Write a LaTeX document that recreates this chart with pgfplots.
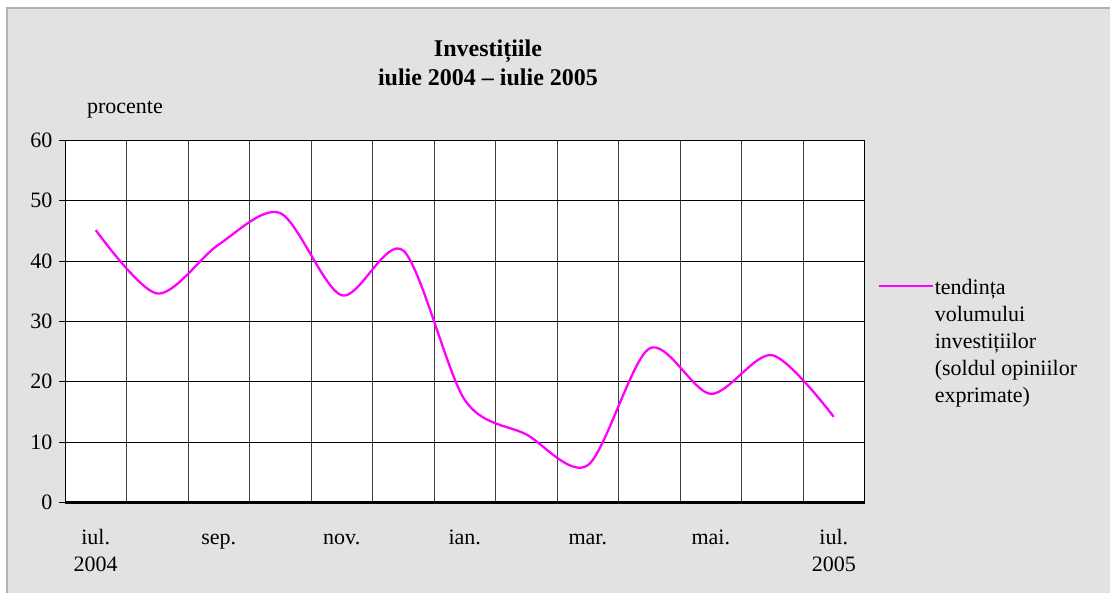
\documentclass[border=0pt]{standalone}
\usepackage{pgfplots}
\pgfplotsset{compat=1.18}
\usepackage{fontspec}
\setmainfont{Liberation Serif}
\definecolor{bgdots}{RGB}{226,226,226}
\definecolor{mag}{RGB}{255,0,255}
\newcommand{\ml}[1]{\begin{tabular}[t]{@{}c@{}}#1\end{tabular}}
\begin{document}
\begin{tikzpicture}[x=1pt,y=1pt,font=\fontsize{22}{26}\selectfont]
\fill[white] (0,0) rectangle (1111,595);
\fill[bgdots] (7,2) rectangle (1111,587);
\draw[gray!60, line width=1.2pt] (7,2) -- (7,587) -- (1111,587);
\begin{axis}[
  at={(65pt,92pt)}, anchor=south west,
  scale only axis, width=800pt, height=363pt,
  xmin=-0.5, xmax=12.5, ymin=0, ymax=60,
  axis background/.style={fill=white},
  axis line style={black, line width=0.8pt},
  ytick={0,10,...,60},
  ymajorgrids, major grid style={black, line width=0.6pt},
  xtick={0,2,...,12},
  xticklabels={\ml{iul.\\[1pt]2004},sep.,nov.,ian.,mar.,mai.,\ml{iul.\\[1pt]2005}},
  minor xtick={-0.5,0.5,...,12.5},
  xminorgrids, minor grid style={black!75, line width=0.6pt},
  x tick style={draw=none},
  minor x tick style={draw=none},
  y tick style={black, line width=0.6pt},
  tick pos=left,
  tick align=outside, major tick length=6pt,
  xticklabel style={anchor=base, yshift=-36pt},
  yticklabel style={xshift=-3pt},
  /pgf/number format/assume math mode=true,
  legend style={at={(1.016,0.628)}, anchor=north west, draw=none, fill=none,
    inner sep=0pt, nodes={inner sep=1pt}, row sep=0pt},
  legend cell align=left,
  legend image code/.code={\draw[#1] (0pt,0pt) -- (54pt,0pt);},
  clip=false,
]
\addplot[mag, line width=2.3pt, smooth, tension=0.5] coordinates {
  (0,45.1) (1,34.6) (2,42.7) (3,47.9) (4,34.3) (5,41.7) (6,17.0)
  (7,11.3) (8,6.2) (9,25.5) (10,18.0) (11,24.4) (12,14.2)
};
\addlegendentry{\begin{tabular}[t]{@{}l@{}}tendința\\[1pt]volumului\\[1pt]investițiilor\\[1pt](soldul opiniilor\\[1pt]exprimate)\end{tabular}}
\draw[black, line width=2.5pt] (rel axis cs:0,0) -- (rel axis cs:1,0);
\node[anchor=base west, inner sep=0pt] at (axis description cs:0.0275,1.074) {procente};
\node[anchor=base, inner sep=0pt, font=\bfseries\fontsize{24}{32}\selectfont] at (axis description cs:0.529,1.151) {\begin{tabular}[b]{@{}c@{}}Investițiile\\[-3pt]iulie 2004 – iulie 2005\end{tabular}};
\end{axis}
\end{tikzpicture}
\end{document}
